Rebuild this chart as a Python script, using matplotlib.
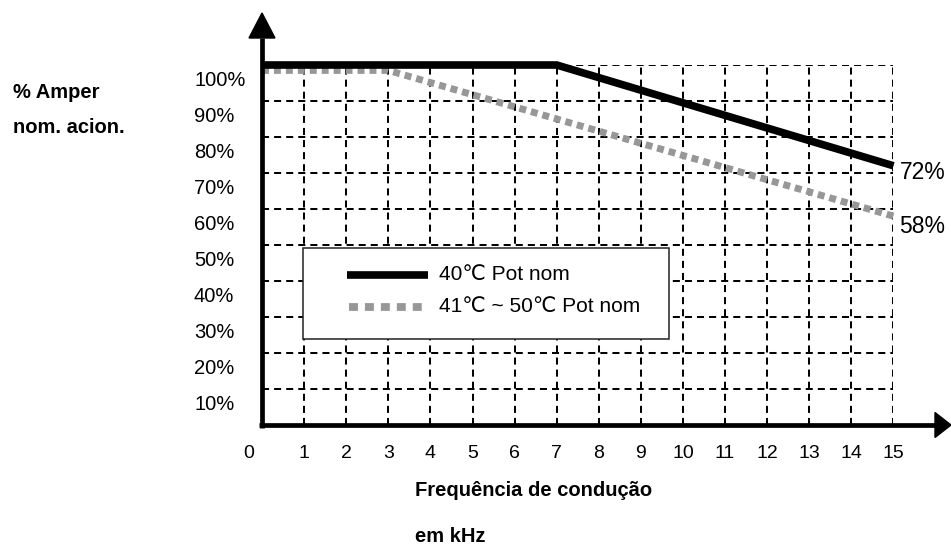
import matplotlib
matplotlib.use("Agg")
import matplotlib.pyplot as plt
from matplotlib.patches import Polygon, Rectangle
from matplotlib.lines import Line2D
from matplotlib import transforms

plt.rcParams['font.family'] = ['Liberation Sans', 'DejaVu Sans']

# --- data -------------------------------------------------------------
freq_ticks = list(range(1, 16))
freq_labels = [str(v) for v in freq_ticks]
pct_ticks = list(range(10, 101, 10))
pct_labels = [f"{v}%" for v in pct_ticks]

series_names = ["40℃ Pot nom", "41℃ ~ 50℃ Pot nom"]
x_40 = [0, 7, 15]
y_40 = [100, 100, 72]
x_50 = [0, 3, 15]
y_50 = [98.5, 98.5, 58]
end_labels = ["72%", "58%"]

# --- figure -----------------------------------------------------------
W, H, DPI = 951, 546, 100
fig = plt.figure(figsize=(W / DPI, H / DPI), dpi=DPI)
x0_px, x15_px = 262, 893.5
y0_px, y100_px = 425, 65
ax = fig.add_axes([x0_px / W, (H - y0_px) / H,
                   (x15_px - x0_px) / W, (y0_px - y100_px) / H])
ax.set_xlim(0, 15)
ax.set_ylim(0, 100)
for s in ax.spines.values():
    s.set_visible(False)

# data units per pixel
ux = 15 / (x15_px - x0_px)
uy = 100 / (y0_px - y100_px)

# dotted grid
ax.set_xticks(freq_ticks)
ax.set_yticks(pct_ticks)
ax.tick_params(length=0, labelbottom=False, labelleft=False)
ax.set_axisbelow(True)
ax.grid(True, color='black', linewidth=1.45, linestyle=(0, (3.5, 2.5)))

# axes with arrow heads
axis_lw = 3.4
ax.plot([0, 0], [-2.5 * uy, (y0_px - 38) * uy], color='black',
        lw=axis_lw, solid_capstyle='butt', clip_on=False, zorder=5)
ax.plot([-3 * ux, (935 - x0_px) * ux], [0, 0], color='black',
        lw=axis_lw, solid_capstyle='butt', clip_on=False, zorder=5)
ax.add_patch(Polygon([[-13 * ux, (y0_px - 38) * uy],
                      [13 * ux, (y0_px - 38) * uy],
                      [0, (y0_px - 13) * uy]],
                     closed=True, color='black', clip_on=False, zorder=5))
ax.add_patch(Polygon([[(935 - x0_px) * ux, 12.5 * uy],
                      [(935 - x0_px) * ux, -12.5 * uy],
                      [(951 - x0_px) * ux, 0]],
                     closed=True, color='black', clip_on=False, zorder=5))

# curves
style_40 = dict(color='black', lw=5.5, solid_capstyle='butt')
style_50 = dict(color='#979797', lw=5.0, linestyle=(0, (1.0, 0.72)),
                dash_capstyle='butt')
ax.plot(x_40, y_40, clip_on=False, zorder=4, **style_40)
ax.plot(x_50, y_50, clip_on=False, zorder=3, **style_50)

# end-value labels
fs = 14.5
for xs, ys, lab, dy in [(x_40, y_40, end_labels[0], -7),
                         (x_50, y_50, end_labels[1], -10)]:
    tr = ax.transData + transforms.ScaledTranslation(6 / DPI, dy / DPI,
                                                    fig.dpi_scale_trans)
    ax.text(xs[-1], ys[-1], lab, transform=tr, ha='left', va='center',
            fontsize=16.5, clip_on=False)

# y tick labels (left-aligned, set just below each grid line)
tr_y = ax.get_yaxis_transform() + transforms.ScaledTranslation(
    -68 / DPI, -16 / DPI, fig.dpi_scale_trans)
for v, lab in zip(pct_ticks, pct_labels):
    ax.text(0, v, lab, transform=tr_y, ha='left', va='center', fontsize=fs)

# x tick labels
tr_x = ax.get_xaxis_transform() + transforms.ScaledTranslation(
    0, -28 / DPI, fig.dpi_scale_trans)
for v, lab in zip(freq_ticks, freq_labels):
    ax.text(v, 0, lab, transform=tr_x, ha='center', va='center', fontsize=14)
ax.text(0, 0, "0", transform=tr_x + transforms.ScaledTranslation(
    -13 / DPI, 0, fig.dpi_scale_trans), ha='center', va='center', fontsize=14)

# axis titles
fig.text(13 / W, 1 - 92 / H, "% Amper", ha='left', va='center',
         fontsize=fs, fontweight='bold')
fig.text(13 / W, 1 - 127 / H, "nom. acion.", ha='left', va='center',
         fontsize=fs, fontweight='bold')
fig.text(415 / W, 1 - 490 / H, "Frequência de condução", ha='left',
         va='center', fontsize=fs, fontweight='bold')
fig.text(415 / W, 1 - 536 / H, "em kHz", ha='left', va='center',
         fontsize=fs, fontweight='bold')

# legend box
def afx(px):
    return (px - x0_px) / (x15_px - x0_px)

def afy(py):
    return (y0_px - py) / (y0_px - y100_px)

ax.add_patch(Rectangle((afx(302.7), afy(339.3)), afx(669) - afx(302.7),
                       afy(248.3) - afy(339.3), transform=ax.transAxes,
                       facecolor='white', edgecolor='#222222', lw=1.1,
                       zorder=6))
ax.add_line(Line2D([afx(346.7), afx(428)], [afy(275), afy(275)],
                   transform=ax.transAxes, zorder=7, **style_40))
leg50 = dict(style_50)
leg50['linestyle'] = (0, (1.15, 0.9))
leg50['lw'] = 5.6
ax.add_line(Line2D([afx(349), afx(425)], [afy(306.7), afy(306.7)],
                   transform=ax.transAxes, zorder=7, **leg50))
ax.text(afx(439), afy(275), series_names[0], transform=ax.transAxes,
        ha='left', va='center', fontsize=15, zorder=8)
ax.text(afx(439), afy(306.7), series_names[1], transform=ax.transAxes,
        ha='left', va='center', fontsize=15, zorder=8)

fig.savefig("out.png", dpi=DPI)
